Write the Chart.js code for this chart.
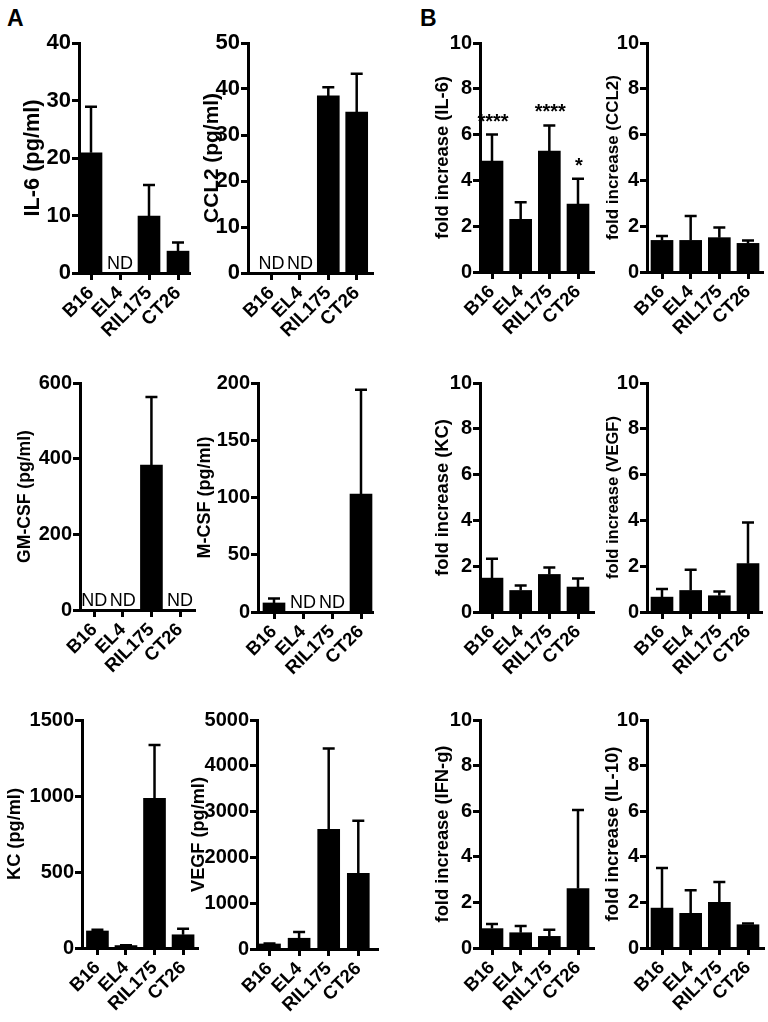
<!DOCTYPE html>
<html>
<head>
<meta charset="utf-8">
<script src="https://cdn.jsdelivr.net/npm/chart.js@4.4.1/dist/chart.umd.min.js"></script>
<style>
  body { margin: 0; background: #fff; }
  #figure { position: relative; width: 768px; height: 1022px; overflow: hidden; background: #fff;
            font-family: Arial, "Liberation Sans", sans-serif; }
  #figure canvas { position: absolute; }
  .letter { position: absolute; font-weight: bold; font-size: 23px; line-height: 23px; }
</style>
</head>
<body>
<div id="figure">
  <div class="letter" style="left:7px;top:7px">A</div>
  <div class="letter" style="left:420px;top:7px">B</div>
</div>
<script>
// Cell lines on every x axis
const categories = ["B16", "EL4", "RIL175", "CT26"];

// Panel A: concentrations in pg/ml (mean, upper error). null = not detected (ND)
const il6Mean = [20.9, null, 9.9, 3.8];
const il6Err = [8.0, null, 5.4, 1.5];
const ccl2Mean = [null, null, 38.5, 35.0];
const ccl2Err = [null, null, 1.9, 8.3];
const gmcsfMean = [null, null, 383, null];
const gmcsfErr = [null, null, 180, null];
const mcsfMean = [7.9, null, null, 103];
const mcsfErr = [3.8, null, null, 91];
const kcMean = [112, 16, 985, 87];
const kcErr = [8, 2, 351, 40];
const vegfMean = [110, 235, 2615, 1653];
const vegfErr = [12, 135, 1765, 1148];

// Panel B: fold increase (mean, upper error)
const foldIl6Mean = [4.84, 2.30, 5.28, 2.97];
const foldIl6Err = [1.16, 0.75, 1.12, 1.10];
const foldIl6Stars = ["****", "", "****", "*"];
const foldCcl2Mean = [1.38, 1.38, 1.50, 1.25];
const foldCcl2Err = [0.19, 1.07, 0.44, 0.13];
const foldKcMean = [1.48, 0.94, 1.64, 1.09];
const foldKcErr = [0.85, 0.22, 0.30, 0.37];
const foldVegfMean = [0.65, 0.94, 0.71, 2.11];
const foldVegfErr = [0.35, 0.91, 0.19, 1.80];
const foldIfngMean = [0.85, 0.67, 0.51, 2.61];
const foldIfngErr = [0.20, 0.29, 0.29, 3.44];
const foldIl10Mean = [1.75, 1.52, 2.00, 1.02];
const foldIl10Err = [1.76, 1.01, 0.89, 0.05];

const FONT = 'Arial, "Liberation Sans", sans-serif';

// layout of each small chart on the page (pixel positions of axes, title lengths)
const panels = [
  { mean: il6Mean, err: il6Err, nd: true, title: "IL-6 (pg/ml)", titleLen: 117, max: 40, step: 10,
    axisX: 79, c0: 91, c3: 178, endX: 190, top: 43, zero: 273, titleX: 33, tickSize: 22, labelSize: 19 },
  { mean: ccl2Mean, err: ccl2Err, nd: true, title: "CCL2 (pg/ml)", titleLen: 130, max: 50, step: 10,
    axisX: 248, c0: 271.5, c3: 356.7, endX: 373, top: 43, zero: 273, titleX: 212.5, tickSize: 22, labelSize: 19 },
  { mean: foldIl6Mean, err: foldIl6Err, stars: foldIl6Stars, title: "fold increase (IL-6)", titleLen: 163, max: 10, step: 2,
    axisX: 480, c0: 492, c3: 578, endX: 594, top: 43, zero: 272, titleX: 442.5, tickSize: 20, labelSize: 18.5 },
  { mean: foldCcl2Mean, err: foldCcl2Err, title: "fold increase (CCL2)", titleLen: 165, max: 10, step: 2,
    axisX: 647, c0: 662, c3: 748, endX: 763, top: 43, zero: 272, titleX: 613, tickSize: 20, labelSize: 18.5 },

  { mean: gmcsfMean, err: gmcsfErr, nd: true, title: "GM-CSF (pg/ml)", titleLen: 133, max: 600, step: 200,
    axisX: 80, c0: 94.3, c3: 180, endX: 195, top: 383, zero: 609.5, titleX: 25, tickSize: 20, labelSize: 18.5 },
  { mean: mcsfMean, err: mcsfErr, nd: true, title: "M-CSF (pg/ml)", titleLen: 122, max: 200, step: 50,
    axisX: 258, c0: 274, c3: 361, endX: 373, top: 383, zero: 611.5, titleX: 205, tickSize: 20, labelSize: 18.5 },
  { mean: foldKcMean, err: foldKcErr, title: "fold increase (KC)", titleLen: 157, max: 10, step: 2,
    axisX: 480, c0: 492, c3: 578, endX: 594, top: 383, zero: 611.5, titleX: 442.5, tickSize: 20, labelSize: 18.5 },
  { mean: foldVegfMean, err: foldVegfErr, title: "fold increase (VEGF)", titleLen: 163, max: 10, step: 2,
    axisX: 647, c0: 662, c3: 748, endX: 762, top: 383, zero: 611.5, titleX: 613, tickSize: 20, labelSize: 18.5 },

  { mean: kcMean, err: kcErr, nd: true, title: "KC (pg/ml)", titleLen: 92, max: 1500, step: 500,
    axisX: 81.5, c0: 97, c3: 183, endX: 198, top: 720, zero: 948.3, titleX: 15, tickSize: 20, labelSize: 18.5 },
  { mean: vegfMean, err: vegfErr, nd: true, title: "VEGF (pg/ml)", titleLen: 115, max: 5000, step: 1000,
    axisX: 257, c0: 269.5, c3: 358.3, endX: 378, top: 720, zero: 948.5, titleX: 198.5, tickSize: 20, labelSize: 18.5 },
  { mean: foldIfngMean, err: foldIfngErr, title: "fold increase (IFN-g)", titleLen: 177, max: 10, step: 2,
    axisX: 480, c0: 492, c3: 578, endX: 594, top: 720, zero: 948.3, titleX: 442.5, tickSize: 20, labelSize: 18.5 },
  { mean: foldIl10Mean, err: foldIl10Err, title: "fold increase (IL-10)", titleLen: 175, max: 10, step: 2,
    axisX: 647, c0: 662, c3: 748, endX: 764, top: 720, zero: 948.3, titleX: 613, tickSize: 20, labelSize: 18.5 }
];

// Helper: font size that makes a bold title span the given length
const measureCtx = document.createElement("canvas").getContext("2d");
function fitFontSize(text, len) {
  measureCtx.font = "bold 100px " + FONT;
  return 100 * len / measureCtx.measureText(text).width;
}

// draws error bars (upper only), "ND" labels and significance stars
function annotationPlugin(p) {
  return {
    id: "annotations",
    afterDatasetsDraw(chart) {
      const { ctx, scales: { x, y } } = chart;
      ctx.save();
      ctx.strokeStyle = "#000";
      ctx.fillStyle = "#000";
      ctx.lineWidth = 2.5;
      p.mean.forEach((m, i) => {
        const px = x.getPixelForValue(i);
        if (m == null) {
          if (p.nd) {
            ctx.font = "18px " + FONT;
            ctx.textAlign = "center";
            ctx.textBaseline = "alphabetic";
            ctx.fillText("ND", px, y.getPixelForValue(0) - 4);
          }
          return;
        }
        const e = p.err[i];
        const yTop = y.getPixelForValue(m + e);
        ctx.beginPath();
        ctx.moveTo(px, y.getPixelForValue(m));
        ctx.lineTo(px, yTop);
        ctx.moveTo(px - 6, yTop);
        ctx.lineTo(px + 6, yTop);
        ctx.stroke();
        if (p.stars && p.stars[i]) {
          ctx.font = "bold 20px " + FONT;
          ctx.textAlign = "center";
          ctx.textBaseline = "alphabetic";
          ctx.fillText(p.stars[i], px + 1, yTop - 7);
        }
      });
      ctx.restore();
    }
  };
}

function makePanel(p) {
  const fig = document.getElementById("figure");
  const ax = Math.round(p.axisX);
  const top = Math.round(p.top);
  const zero = Math.round(p.zero);
  const end = Math.round(p.endX);
  const padTop = 15, padRight = 14, xAxisH = 80;
  const canvasLeft = ax - 100;
  const canvasTop = top - padTop;
  const w = 100 + (end - ax) + padRight;
  const h = padTop + (zero - top) + xAxisH;
  const titleSize = fitFontSize(p.title, p.titleLen);
  const scaleLeft = p.titleX - 0.6 * titleSize;
  const yWidth = ax - scaleLeft;
  const padLeft = scaleLeft - canvasLeft;
  const ppu = (p.c3 - p.c0) / 3;
  const xMin = -(p.c0 - p.axisX) / ppu;
  const xMax = 3 + (p.endX - p.c3) / ppu;

  const canvas = document.createElement("canvas");
  canvas.width = w;
  canvas.height = h;
  canvas.style.left = canvasLeft + "px";
  canvas.style.top = canvasTop + "px";
  fig.appendChild(canvas);

  new Chart(canvas, {
    type: "bar",
    data: {
      datasets: [{
        data: categories.map((c, i) => ({ x: i, y: p.mean[i] })),
        backgroundColor: "#000",
        borderWidth: 0,
        barThickness: 22
      }]
    },
    options: {
      responsive: false,
      animation: false,
      devicePixelRatio: 1,
      layout: { padding: { left: padLeft, top: padTop, right: padRight, bottom: 0 } },
      plugins: { legend: { display: false }, tooltip: { enabled: false } },
      scales: {
        x: {
          type: "linear",
          min: xMin,
          max: xMax,
          offset: false,
          afterBuildTicks: (scale) => { scale.ticks = categories.map((c, i) => ({ value: i })); },
          afterFit: (scale) => { scale.height = xAxisH; },
          border: { display: true, color: "#000", width: 3 },
          grid: { display: true, offset: false, drawOnChartArea: false, drawTicks: true,
                  tickLength: 7, tickWidth: 3, tickColor: "#000", color: "#000" },
          ticks: {
            autoSkip: false,
            minRotation: 45,
            maxRotation: 45,
            padding: 2,
            color: "#000",
            font: { family: FONT, size: p.labelSize, weight: "bold" },
            callback: (v) => categories[v] ?? ""
          }
        },
        y: {
          min: 0,
          max: p.max,
          afterFit: (scale) => { scale.width = yWidth; },
          border: { display: true, color: "#000", width: 3 },
          grid: { display: true, drawOnChartArea: false, drawTicks: true,
                  tickLength: 7, tickWidth: 3, tickColor: "#000", color: "#000" },
          ticks: {
            stepSize: p.step,
            padding: 1,
            color: "#000",
            font: { family: FONT, size: p.tickSize, weight: "bold" },
            callback: (v) => String(v)
          },
          title: {
            display: true,
            text: p.title,
            color: "#000",
            padding: 0,
            font: { family: FONT, size: titleSize, weight: "bold" }
          }
        }
      }
    },
    plugins: [annotationPlugin(p)]
  });
}

panels.forEach(makePanel);
</script>
</body>
</html>
